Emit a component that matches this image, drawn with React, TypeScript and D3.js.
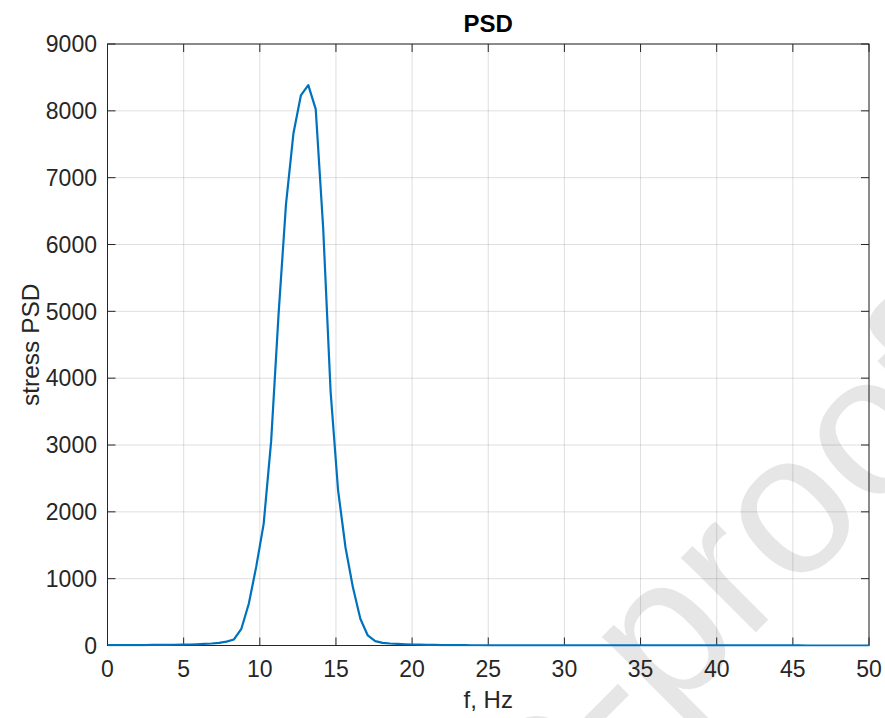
import React from "react";
import * as d3 from "d3";

// frequency resolution (Hz per bin) and PSD values per bin
const DF = 0.48828125;
const psdValues: number[] = [
  5, 5, 6, 6, 7, 7, 8, 9, 10, 11, 13, 15, 18, 23, 30, 40, 58, 90, 250, 624,
  1180, 1820, 3050, 4950, 6600, 7660, 8230, 8385, 8025, 6250, 3800, 2330, 1470, 870, 400, 150,
  65, 40, 30, 24, 19, 15, 12, 10, 8, 7, 6, 5, 4.5, 4, 3.5, 3.2, 3, 2.8, 2.6, 2.4,
  2.2, 2, 1.9, 1.8, 1.7, 1.6, 1.5, 1.4, 1.3, 1.2, 1.2, 1.1, 1.1, 1, 1, 0.9, 0.9, 0.8,
  0.8, 0.8, 0.7, 0.7, 0.7, 0.6, 0.6, 0.6, 0.6, 0.5, 0.5, 0.5, 0.5, 0.5, 0.4, 0.4, 0.4,
  0.4, 0.4, 0.4, 0.3, 0.3, 0.3, 0.3, 0.3, 0.3, 0.3, 0.3, 0.3, 0.3,
];
const xTicks = [0, 5, 10, 15, 20, 25, 30, 35, 40, 45, 50];
const yTicks = [0, 1000, 2000, 3000, 4000, 5000, 6000, 7000, 8000, 9000];
const titleText = "PSD";
const xLabel = "f, Hz";
const yLabel = "stress PSD";
const watermark = "Journal Pre-proof";

const W = 885;
const H = 718;
const M = { left: 107.5, right: 869, top: 44, bottom: 645.5 };
const AX = "#262626";
const FONT = "'Liberation Sans', Arial, Helvetica, sans-serif";

export default function App() {
  const x = d3.scaleLinear().domain([0, 50]).range([M.left, M.right]);
  const y = d3.scaleLinear().domain([0, 9000]).range([M.bottom, M.top]);
  const pts: [number, number][] = psdValues.map((v, i) => [i * DF, v]);
  const line = d3
    .line<[number, number]>()
    .x((d) => x(d[0]))
    .y((d) => y(d[1]));
  const tick = 8;

  return (
    <svg
      width={W}
      height={H}
      style={{ position: "absolute", left: 0, top: 0, display: "block", background: "#fff" }}
      fontFamily={FONT}
    >
      <rect x={0} y={0} width={W} height={H} fill="#fff" />
      <defs>
        <clipPath id="plotclip">
          <rect x={M.left} y={M.top} width={M.right - M.left} height={M.bottom - M.top + 1} />
        </clipPath>
      </defs>
      {/* watermark */}
      <text
        transform="translate(-103,1491) rotate(-45)"
        fontSize={200}
        fill="#e6e6e6"
        fontFamily={FONT}
      >
        {watermark}
      </text>
      {/* grid */}
      {xTicks.map((t) => (
        <line key={"gx" + t} x1={x(t)} x2={x(t)} y1={M.top} y2={M.bottom} stroke={AX} strokeOpacity={0.15} />
      ))}
      {yTicks.map((t) => (
        <line key={"gy" + t} x1={M.left} x2={M.right} y1={y(t)} y2={y(t)} stroke={AX} strokeOpacity={0.15} />
      ))}
      {/* box */}
      <rect
        x={M.left}
        y={M.top}
        width={M.right - M.left}
        height={M.bottom - M.top}
        fill="none"
        stroke={AX}
        strokeWidth={1}
      />
      {/* ticks */}
      {xTicks.map((t) => (
        <g key={"tx" + t}>
          <line x1={x(t)} x2={x(t)} y1={M.bottom} y2={M.bottom - tick} stroke={AX} />
          <line x1={x(t)} x2={x(t)} y1={M.top} y2={M.top + tick} stroke={AX} />
          <text x={x(t)} y={677} textAnchor="middle" fontSize={23} fill={AX}>
            {t}
          </text>
        </g>
      ))}
      {yTicks.map((t) => (
        <g key={"ty" + t}>
          <line x1={M.left} x2={M.left + tick} y1={y(t)} y2={y(t)} stroke={AX} />
          <line x1={M.right} x2={M.right - tick} y1={y(t)} y2={y(t)} stroke={AX} />
          <text x={97} y={y(t) + 8.3} textAnchor="end" fontSize={23} fill={AX}>
            {t}
          </text>
        </g>
      ))}
      {/* data */}
      <path
        d={line(pts) || ""}
        fill="none"
        stroke="#0072BD"
        strokeWidth={2.2}
        strokeLinejoin="round"
        clipPath="url(#plotclip)"
      />
      {/* labels */}
      <text x={(M.left + M.right) / 2} y={32} textAnchor="middle" fontSize={24} fontWeight="bold" fill="#000">
        {titleText}
      </text>
      <text x={(M.left + M.right) / 2} y={708} textAnchor="middle" fontSize={24} fill={AX}>
        {xLabel}
      </text>
      <text
        transform={`translate(39,${(M.top + M.bottom) / 2}) rotate(-90)`}
        textAnchor="middle"
        fontSize={24.5}
        fill={AX}
      >
        {yLabel}
      </text>
    </svg>
  );
}
